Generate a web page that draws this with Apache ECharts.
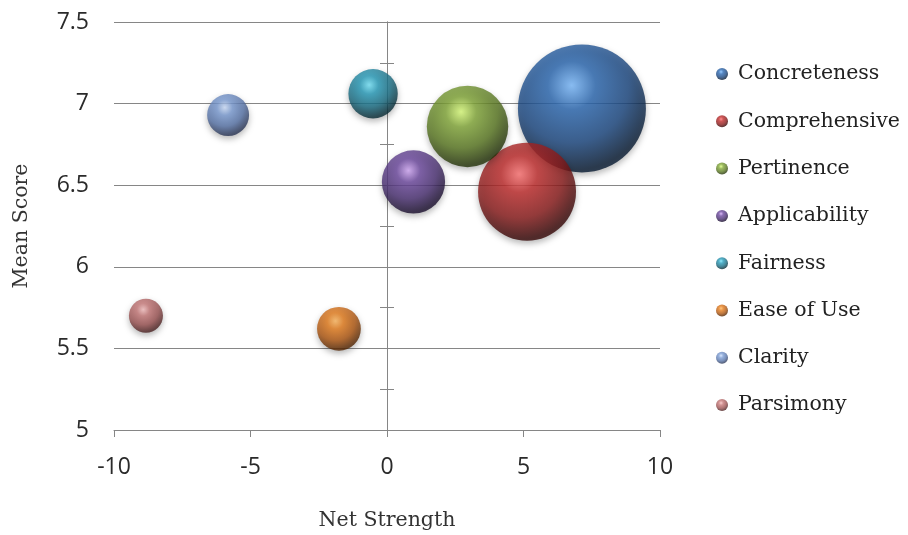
<!DOCTYPE html>
<html>
<head>
<meta charset="utf-8">
<script src="https://cdn.jsdelivr.net/npm/echarts@6/dist/echarts.min.js"></script>
<style>
  html, body { margin: 0; padding: 0; background: #fff; }
  #chart { width: 908px; height: 535px; }
</style>
</head>
<body>
<div id="chart"></div>
<script>
// Criteria and their values
const categories = ['Concreteness', 'Comprehensive', 'Pertinence', 'Applicability', 'Fairness', 'Ease of Use', 'Clarity', 'Parsimony'];
const netStrength = [7.14, 5.13, 2.95, 0.97, -0.51, -1.76, -5.82, -8.83];
const meanScore = [6.97, 6.46, 6.86, 6.52, 7.06, 5.62, 6.93, 5.70];
const bubbleSize = [41, 24, 16.6, 10, 6.1, 4.8, 4.4, 2.9];
const xTicks = [-10, -5, 0, 5, 10];
const yTicks = [5, 5.5, 6, 6.5, 7, 7.5];

// Sphere shading: highlight, body, shade, rim
const palette = [
  ['#7cbcff', '#2c69b2', '#1b4780', '#071a32'],
  ['#ff7474', '#c02c2c', '#8a1b1b', '#360606'],
  ['#dcff7c', '#84a93a', '#5a7822', '#243309'],
  ['#d2a8f6', '#6e4aa0', '#4a3072', '#1a0e2e'],
  ['#74e4fa', '#289cba', '#196c82', '#082c36'],
  ['#ffb860', '#e47c1c', '#ae5610', '#552602'],
  ['#cfe0fc', '#7c9dd4', '#5874a8', '#2a3656'],
  ['#f6c0c0', '#c67878', '#9a5252', '#4c2222']
];

const MAX_DIAMETER = 128;
const maxSize = Math.max.apply(null, bubbleSize);

function sphere(c) {
  return {
    type: 'radial', x: 0.42, y: 0.32, r: 0.72,
    colorStops: [
      { offset: 0, color: c[0] },
      { offset: 0.26, color: c[1] },
      { offset: 0.62, color: c[2] },
      { offset: 0.92, color: c[3] },
      { offset: 1, color: c[3] }
    ]
  };
}

const series = categories.map(function (name, i) {
  return {
    name: name,
    type: 'scatter',
    data: [[netStrength[i], meanScore[i], bubbleSize[i]]],
    symbolSize: function (v) { return MAX_DIAMETER * Math.sqrt(v[2] / maxSize); },
    itemStyle: {
      color: sphere(palette[i]),
      shadowBlur: 6,
      shadowOffsetY: 3,
      shadowColor: 'rgba(0,0,0,0.35)'
    },
    z: 3 + i
  };
});

const grey = '#868686';
const tickFont = { fontFamily: 'Open Sans', fontSize: 23, color: '#2a2a2a' };
const titleFont = { fontFamily: 'DejaVu Serif', fontSize: 20.5, color: '#333' };
const zeroAxis = function (inside) {
  return {
    type: 'value', min: yTicks[0], max: yTicks[yTicks.length - 1], interval: 0.25,
    position: 'left',
    axisLine: { show: true, onZero: true, onZeroAxisIndex: 0, lineStyle: { color: grey, width: 1 } },
    axisTick: { show: true, inside: inside, length: 7, lineStyle: { color: grey } },
    axisLabel: { show: false },
    splitLine: { show: false }
  };
};

const chart = echarts.init(document.getElementById('chart'), null, { renderer: 'canvas' });
chart.setOption({
  animation: false,
  backgroundColor: '#fff',
  grid: { left: 114, right: 248, top: 22, bottom: 105, outerBoundsMode: 'none', containLabel: false },
  legend: {
    orient: 'vertical',
    left: 711, top: 58,
    icon: 'circle',
    itemWidth: 12, itemHeight: 12, itemGap: 25.3,
    textStyle: { fontFamily: 'DejaVu Serif', fontSize: 20.5, lineHeight: 22, color: '#222', padding: [0, 0, 0, 5] },
    data: categories
  },
  xAxis: {
    type: 'value', min: xTicks[0], max: xTicks[xTicks.length - 1], interval: 5,
    name: 'Net Strength', nameLocation: 'middle', nameGap: 80,
    nameTextStyle: titleFont,
    axisLine: { show: true, onZero: false, lineStyle: { color: grey, width: 1 } },
    axisTick: { show: true, length: 7, lineStyle: { color: grey } },
    axisLabel: Object.assign({ margin: 26 }, tickFont),
    splitLine: { show: false }
  },
  yAxis: [
    {
      type: 'value', min: yTicks[0], max: yTicks[yTicks.length - 1], interval: 0.5,
      name: 'Mean Score', nameLocation: 'middle', nameGap: 82, nameRotate: 90,
      nameTextStyle: titleFont,
      axisLine: { show: false, onZero: false },
      axisTick: { show: false },
      axisLabel: Object.assign({ margin: 25 }, tickFont),
      splitLine: { show: true, lineStyle: { color: grey, width: 1 } }
    },
    zeroAxis(false),
    zeroAxis(true)
  ],
  series: series
});
</script>
</body>
</html>
